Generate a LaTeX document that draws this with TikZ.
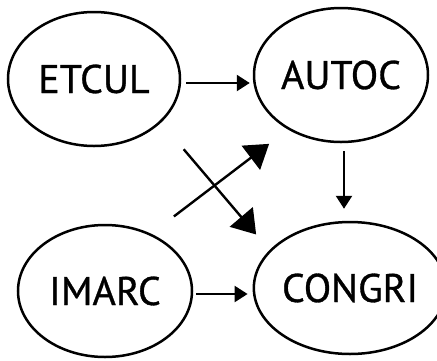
\documentclass[tikz,border=0pt]{standalone}
\usepackage{fontspec}
\setmainfont{PT Sans}
\newfontfamily\labelfont{PT Sans}[FakeBold=0.8]
\usetikzlibrary{shapes.geometric,arrows.meta}
\begin{document}
\begin{tikzpicture}[x=1pt,y=-1pt,
  var/.style={ellipse,draw,line width=2.5pt,inner sep=0pt,
    font=\labelfont\fontsize{40}{40}\selectfont},
  arr/.style={line width=2.4pt,-{Triangle[length=13pt,width=16pt]}},
  bigarr/.style={line width=2.4pt,-{Triangle[length=23pt,width=30pt]}}]
\useasboundingbox (0,0) rectangle (437,360);
% variables
\node[var,minimum width=172pt,minimum height=134pt] (etcul) at (94,79) {ETCUL};
\node[var,minimum width=174pt,minimum height=134pt] (autoc) at (341,75) {AUTOC};
\node[var,minimum width=174pt,minimum height=132pt] (imarc) at (105,291) {IMARC};
\node[var,minimum width=170pt,minimum height=132pt] (congri) at (350,288) {CONGRI};
% direct paths
\draw[arr] ([shift={(5,4)}]etcul.east) -- ([shift={(-3,8)}]autoc.west);
\draw[arr] ([shift={(3,8)}]autoc.south) -- ([shift={(-6,-12)}]congri.north);
\draw[arr] ([shift={(3,3)}]imarc.east) -- ([shift={(-5,6)}]congri.west);
% crossing paths
\draw[bigarr] ([shift={(28,22)}]etcul.south east) -- ([shift={(-25,-6)}]congri.north west);
\draw[bigarr] ([shift={(6.5,-27)}]imarc.north east) -- ([shift={(-9.5,20.6)}]autoc.south west);
\end{tikzpicture}
\end{document}
